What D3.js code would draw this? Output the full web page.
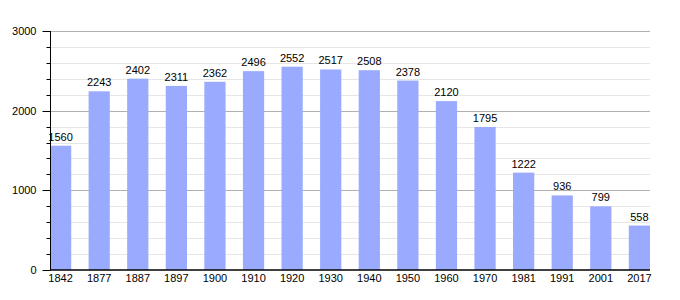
<!DOCTYPE html>
<html><head><meta charset="utf-8">
<script src="https://cdn.jsdelivr.net/npm/d3@7"></script>
<style>body{margin:0;background:#fff}svg{display:block}text{font-family:"Liberation Sans",Arial,sans-serif}</style>
</head><body>
<script>
const years = ["1842","1877","1887","1897","1900","1910","1920","1930","1940","1950","1960","1970","1981","1991","2001","2017"];
const population = [1560,2243,2402,2311,2362,2496,2552,2517,2508,2378,2120,1795,1222,936,799,558];
const majorTicks = [0,1000,2000,3000];
const minorTicks = d3.range(0,3001,200);

const W=680,H=300;
const svg=d3.select("body").append("svg").attr("width",W).attr("height",H);
const x=d3.scaleBand().domain(years).range([50,650]).paddingInner(0.45).paddingOuter(0);
const y=d3.scaleLinear().domain([0,3000]).range([270,31]);

// minor grid
svg.append("g").selectAll("line").data(minorTicks.filter(v=>v%1000!==0)).join("line")
 .attr("x1",50).attr("x2",650).attr("y1",d=>Math.round(y(d))+0.5).attr("y2",d=>Math.round(y(d))+0.5)
 .attr("stroke","#e6e6e6");
svg.append("g").selectAll("line").data(majorTicks.filter(v=>v>0)).join("line")
 .attr("x1",50).attr("x2",650).attr("y1",d=>Math.round(y(d))+0.5).attr("y2",d=>Math.round(y(d))+0.5)
 .attr("stroke","#b0b0b0");

// bars
svg.append("g").selectAll("rect").data(population).join("rect")
 .attr("x",(d,i)=>x(years[i])).attr("width",x.bandwidth())
 .attr("y",d=>y(d)).attr("height",d=>y(0)-y(d)).attr("fill","#99aaff");

// value labels
svg.append("g").selectAll("text").data(population).join("text")
 .attr("x",(d,i)=>x(years[i])+x.bandwidth()/2).attr("y",d=>y(d)-5)
 .attr("text-anchor","middle").attr("font-size",11).attr("fill","#000").text(d=>d);

// y axis
const ya=svg.append("g").attr("transform","translate(50.5,0)");
ya.append("line").attr("y1",y(3000)).attr("y2",y(0)).attr("stroke","#000");
ya.selectAll(".mt").data(minorTicks).join("line")
 .attr("x1",d=>d%1000===0?-8:-4).attr("x2",0)
 .attr("y1",d=>Math.round(y(d))+0.5).attr("y2",d=>Math.round(y(d))+0.5).attr("stroke","#000");
ya.selectAll("text").data(majorTicks).join("text")
 .attr("x",-14).attr("y",d=>y(d)+4).attr("text-anchor","end").attr("font-size",11).text(d=>d);

// x axis
const xa=svg.append("g").attr("transform",`translate(0,${y(0)})`);
xa.append("line").attr("x1",50).attr("x2",650).attr("stroke","#000").attr("stroke-width",1.5);
xa.selectAll("text").data(years).join("text")
 .attr("x",d=>x(d)+x.bandwidth()/2).attr("y",12).attr("text-anchor","middle").attr("font-size",11).text(d=>d);
</script>
</body></html>
